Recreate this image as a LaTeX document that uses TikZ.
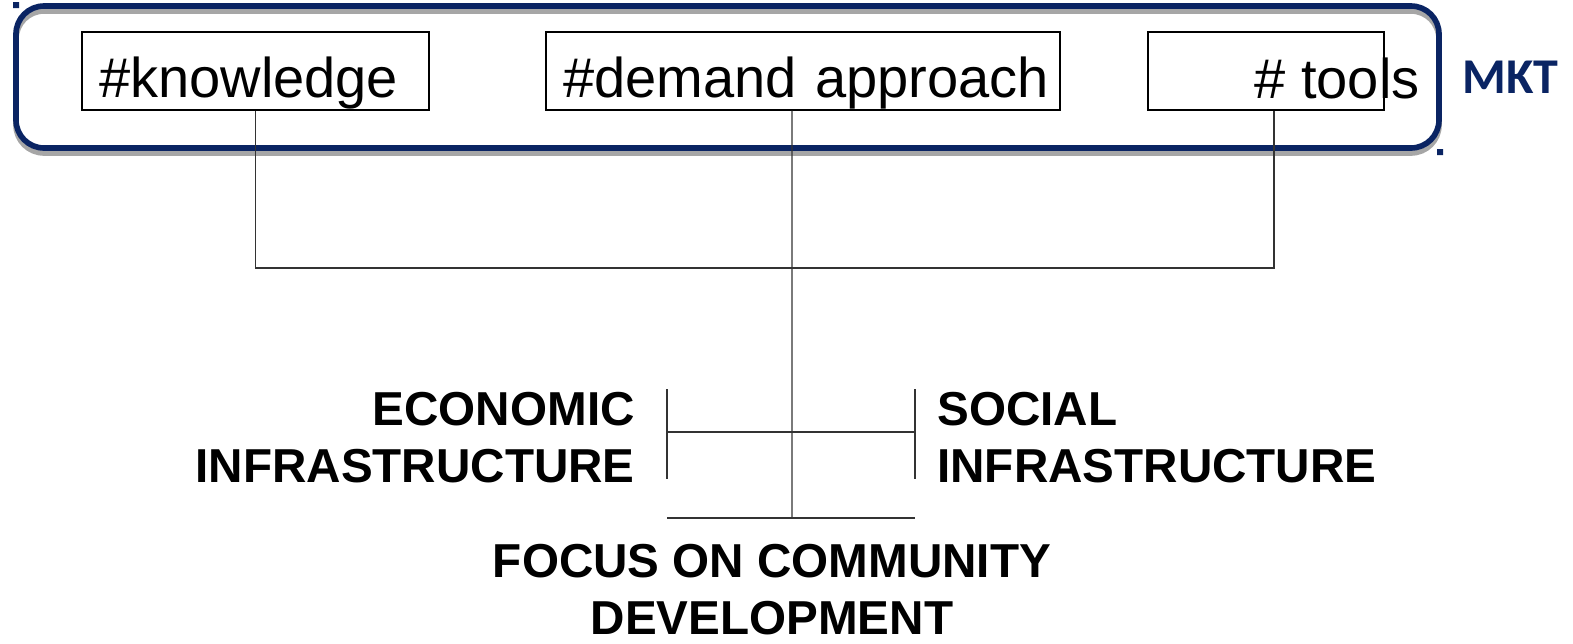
\documentclass[tikz,border=0pt]{standalone}
\usepackage{fontspec}
\setmainfont{Liberation Sans}
\newfontfamily\mktfont{Carlito}
\usetikzlibrary{positioning}
\definecolor{mktblue}{RGB}{10,36,99}

\tikzset{
  tagfont/.style={font=\fontsize{31.9}{38}\selectfont},
  tag/.style={tagfont,draw,line width=.8pt,inner xsep=.34cm,inner ysep=0pt,
    text height=1.32cm,text depth=.24cm},
  head/.style={font=\fontsize{27.1}{32.3}\selectfont\bfseries,inner sep=0pt},
  link/.style={line width=.6pt,black!80},
}

\begin{document}
\begin{tikzpicture}[x=.02cm,y=-.02cm]
  \useasboundingbox (0,0) rectangle (1573,643);
  % frame round the three topics, with its shadow
  \draw[line width=3.2pt,black!35,rounded corners=.56cm,yshift=-.1cm] (16,6) rectangle (1439,148);
  \draw[line width=3.2pt,mktblue,rounded corners=.56cm] (16,6) rectangle (1439,148);
  \fill[mktblue] (13,2) rectangle (19,8) (1437,149) rectangle (1443,155);
  \node[mktblue,anchor=base west,inner sep=0pt,font=\mktfont\bfseries\fontsize{28.5}{34}\selectfont] (mkt) at (1462,93) {MKT};

  % topics
  \node[tag,text width=6.26cm] (know) at (255.5,71) {\#knowledge};
  \node[tag,text width=9.6cm] (demand) at (803,71) {\mbox{\#demand approach}};
  \node[tagfont,anchor=base east,inner sep=0pt] (toolstxt) at (1420,98) {\# tools};
  \node[tag,minimum width=4.72cm,inner xsep=0pt] (tools) at (1266,71) {};

  % links down to the cross
  \coordinate (fork) at (792,268);
  \coordinate (root) at (792,518);
  \draw[link] (know.south) |- (fork) -| ([xshift=.16cm]tools.south);
  \draw[link] ([xshift=-.22cm]demand.south) -- (root);

  \coordinate (econbar) at (667,432);
  \coordinate (socbar) at (915,432);
  \draw[link] (econbar) -- (socbar);
  \draw[link] ([yshift=.86cm]econbar) -- ([yshift=-.94cm]econbar);
  \draw[link] ([yshift=.86cm]socbar) -- ([yshift=-.94cm]socbar);
  \draw[link] (econbar |- root) -- (socbar |- root);

  % base is the last line of each label
  \node[head,align=right,anchor=base east] (econ) at (635,482) {ECONOMIC\\INFRASTRUCTURE};
  \node[head,align=left,anchor=base west] (social) at (937,482) {SOCIAL\\INFRASTRUCTURE};
  \node[head,align=center,anchor=base] (focus) at (772,634) {FOCUS ON COMMUNITY\\DEVELOPMENT};
\end{tikzpicture}
\end{document}
